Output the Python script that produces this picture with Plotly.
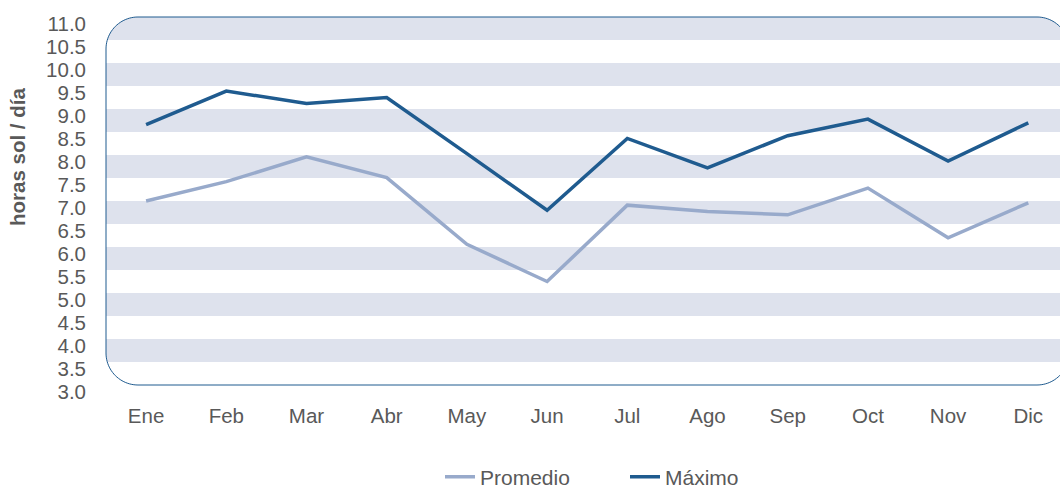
import math
import plotly.graph_objects as go

# ---- data ----
months = ["Ene", "Feb", "Mar", "Abr", "May", "Jun", "Jul", "Ago", "Sep", "Oct", "Nov", "Dic"]
promedio = [7.00, 7.42, 7.96, 7.51, 6.06, 5.25, 6.91, 6.77, 6.70, 7.28, 6.20, 6.96]
maximo = [8.66, 9.39, 9.12, 9.25, 8.03, 6.80, 8.36, 7.72, 8.42, 8.78, 7.87, 8.70]
y_ticks = [3.0 + 0.5 * i for i in range(17)]
y_tick_labels = [f"{v:.1f}" for v in y_ticks]

# ---- geometry (pixels) ----
W, H = 1060, 488
L, T, B = 106, 17, 385            # plot area left/top/bottom
R_rect = 1069                     # right edge of rounded frame (beyond canvas)
RAD = 32
PW, PH = W - L, B - T
STEP = 80.2                       # category spacing in px
YMIN, YMAX = 3.0, 11.0

def px_x(x):
    return (x - L) / PW

def px_y(y):
    return (B - y) / PH

def val_to_py(v):
    return B - (v - YMIN) / (YMAX - YMIN) * PH

def inset(y):
    d = 0.0
    if y < T + RAD:
        dy = T + RAD - y
        d = RAD - math.sqrt(max(RAD ** 2 - dy ** 2, 0))
    elif y > B - RAD:
        dy = y - (B - RAD)
        d = RAD - math.sqrt(max(RAD ** 2 - dy ** 2, 0))
    return d

def band_path(y0, y1, n=24):
    left, right = [], []
    for i in range(n + 1):
        y = y0 + (y1 - y0) * i / n
        d = inset(y)
        left.append((L + d, y))
        right.append((R_rect - d, y))
    pts = left + right[::-1]
    return "M " + " L ".join(f"{px_x(x):.5f},{px_y(y):.5f}" for x, y in pts) + " Z"

def frame_path(n=24):
    pts = []
    centers = [(L + RAD, T + RAD, math.pi), (R_rect - RAD, T + RAD, 1.5 * math.pi),
               (R_rect - RAD, B - RAD, 0.0), (L + RAD, B - RAD, 0.5 * math.pi)]
    for cx, cy, a0 in centers:
        for i in range(n + 1):
            a = a0 + (math.pi / 2) * i / n
            pts.append((cx + RAD * math.cos(a), cy + RAD * math.sin(a)))
    return "M " + " L ".join(f"{px_x(x):.5f},{px_y(y):.5f}" for x, y in pts) + " Z"

STRIPE = "#DEE2ED"
DARK = "#1F5B8F"
LIGHT = "#98AACB"
TXT = "#595959"
FONT = "Liberation Sans, Arial, sans-serif"
FS = 20.5

shapes = []
v = 3.5
while v < YMAX:
    shapes.append(dict(type="path", xref="paper", yref="paper",
                       path=band_path(val_to_py(v + 0.5), val_to_py(v)),
                       fillcolor=STRIPE, line=dict(width=0), layer="below"))
    v += 1.0
shapes.append(dict(type="path", xref="paper", yref="paper", path=frame_path(),
                   fillcolor="rgba(0,0,0,0)", line=dict(color=DARK, width=1), layer="below"))

fig = go.Figure()
fig.add_trace(go.Scatter(x=months, y=promedio, name="Promedio", mode="lines",
                         line=dict(color=LIGHT, width=3.5)))
fig.add_trace(go.Scatter(x=months, y=maximo, name="Máximo", mode="lines",
                         line=dict(color=DARK, width=3.5)))

fig.update_layout(
    width=W, height=H, autosize=False,
    margin=dict(l=L, r=0, t=T, b=H - B, pad=0, autoexpand=False),
    paper_bgcolor="white", plot_bgcolor="rgba(0,0,0,0)",
    font=dict(family=FONT, size=FS, color=TXT),
    shapes=shapes,
    showlegend=True,
    legend=dict(orientation="h", x=px_x(440), xanchor="left", y=px_y(477), yanchor="middle",
                font=dict(size=21, color=TXT), bgcolor="rgba(0,0,0,0)",
                entrywidth=140, entrywidthmode="pixels"),
    annotations=[dict(text="<b>horas sol / día</b>", textangle=-90, xref="paper", yref="paper",
                      x=px_x(17), y=px_y(157), xanchor="center", yanchor="middle",
                      showarrow=False, font=dict(size=20.5, color=TXT, family=FONT))],
)
fig.update_xaxes(type="category", range=[-0.5, -0.5 + PW / STEP], showgrid=False, zeroline=False,
                 showline=False, ticks="", ticklabelstandoff=16, automargin=False,
                 tickfont=dict(size=FS, color=TXT))
fig.update_yaxes(range=[YMIN, YMAX], tickvals=y_ticks, ticktext=y_tick_labels, showgrid=False,
                 zeroline=False, showline=False, ticks="", ticklabelstandoff=19, ticklabelshift=7,
                 automargin=False, tickfont=dict(size=FS, color=TXT))

fig.write_html("out.html", config={"displayModeBar": False},
               post_script="document.body.style.margin='0px';")
